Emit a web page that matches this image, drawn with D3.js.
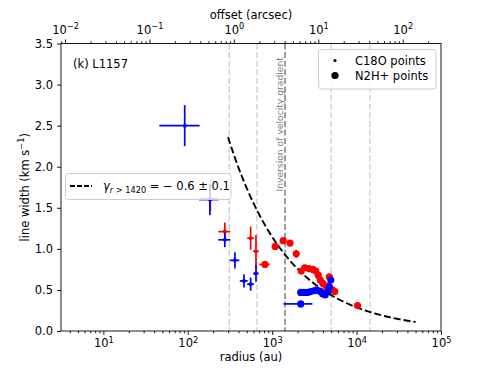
<!DOCTYPE html>
<head>
    <meta charset="UTF-8">
    <title>L1157 line width</title>
    <style>
        body { margin: 0; background: #fff; }
        text { font-family: "DejaVu Sans", sans-serif; }
    </style>
</head>
<body>
    <script src="https://d3js.org/d3.v7.min.js"></script>
    <script>
        // C18O points (radius au, err, line width km/s, err)
        var c18oRedR = [185, 275, 556, 643]
        var c18oRedRErr = [47, 45, 50, 50]
        var c18oRedV = [1.61, 1.21, 1.13, 0.97]
        var c18oRedVErr = [0.15, 0.11, 0.14, 0.20]

        var c18oBlueR = [92, 183, 275, 362, 463, 556, 643]
        var c18oBlueRErr = [46, 47, 45, 47, 50, 50, 50]
        var c18oBlueV = [2.50, 1.60, 1.11, 0.86, 0.61, 0.57, 0.70]
        var c18oBlueVErr = [0.25, 0.19, 0.09, 0.10, 0.08, 0.08, 0.10]

        // N2H+ points
        var n2hRedR = [821, 1085, 1351, 1627, 1927, 2210, 2431, 2712, 3025, 3283, 3516, 3713, 3977, 4315, 4749, 5154, 5518, 10264]
        var n2hRedV = [0.81, 1.03, 1.10, 1.07, 0.94, 0.73, 0.77, 0.76, 0.75, 0.73, 0.68, 0.62, 0.58, 0.55, 0.66, 0.50, 0.48, 0.31]
        var n2hRedRErr = [115, 0, 0, 0, 0, 0, 0, 0, 0, 0, 0, 0, 0, 0, 0, 0, 0, 0]
        var n2hRedVErr = [0, 0, 0, 0, 0.05, 0, 0, 0, 0, 0, 0, 0, 0, 0, 0, 0, 0, 0]

        var n2hBlueR = [2179, 2179, 2384, 2617, 2864, 3135, 3375, 3693, 3977, 4257, 4558, 4749, 4948]
        var n2hBlueV = [0.33, 0.47, 0.47, 0.47, 0.48, 0.49, 0.50, 0.48, 0.45, 0.44, 0.48, 0.54, 0.62]
        var n2hBlueRErr = [820, 0, 0, 0, 0, 0, 0, 0, 0, 0, 0, 0, 0]

        // power law fit
        var fitGamma = -0.6
        var fitAmp = 72.3
        var fitRange = [300, 50000]

        var lightLines = [310, 660, 5000, 14400]
        var inversionR = 1420
        var distance = 352 // pc, au per arcsec

        var yTicks = [0, 0.5, 1, 1.5, 2, 2.5, 3, 3.5]
        var xTicks = [1e1, 1e2, 1e3, 1e4, 1e5]
        var topTicks = [1e-2, 1e-1, 1e0, 1e1, 1e2]

        var width = 490
        var height = 368
        var pad = { left: 61, right: 441, top: 43.5, bottom: 331 } // plot area edges

        var svg = d3.select("body").append("svg")
            .attr("width", width)
            .attr("height", height)

        var x = d3.scaleLog().domain([3.15, 1e5]).range([pad.left, pad.right])
        var xTop = d3.scaleLog().domain([3.15 / distance, 1e5 / distance]).range([pad.left, pad.right])
        var y = d3.scaleLinear().domain([0, 3.5]).range([pad.bottom, pad.top])

        function minors(lo, hi, dom) {
            var out = []
            for (var e = lo; e <= hi; e++) {
                for (var k = 2; k <= 9; k++) {
                    var v = k * Math.pow(10, e)
                    if (v >= dom[0] && v <= dom[1]) out.push(v)
                }
            }
            return out
        }

        function styleAxis(g) {
            g.select(".domain").remove()
            g.selectAll("line").attr("stroke", "#000").attr("stroke-width", 0.9)
            g.selectAll("text").attr("fill", "#000").attr("font-size", "11.5px")
                .attr("font-family", "DejaVu Sans")
        }

        function powLabel(sel) {
            sel.each(function (d) {
                var t = d3.select(this)
                var e = Math.round(Math.log10(d))
                t.text("")
                t.append("tspan").text("10")
                t.append("tspan").attr("font-size", "8.2px").attr("dy", "-4.6")
                    .text(e < 0 ? "\u2212" + (-e) : e)
            })
        }

        // bottom axis
        var gx = svg.append("g").attr("transform", "translate(0," + pad.bottom + ")")
            .call(d3.axisBottom(x).tickValues(xTicks).tickSize(4).tickPadding(4).tickSizeOuter(0))
        styleAxis(gx)
        gx.selectAll("text").call(powLabel)
        var gxm = svg.append("g").attr("transform", "translate(0," + pad.bottom + ")")
            .call(d3.axisBottom(x).tickValues(minors(0, 4, x.domain())).tickSize(2.3).tickFormat(""))
        styleAxis(gxm)

        // top axis
        var gt = svg.append("g").attr("transform", "translate(0," + pad.top + ")")
            .call(d3.axisTop(xTop).tickValues(topTicks).tickSize(4).tickPadding(5.5).tickSizeOuter(0))
        styleAxis(gt)
        gt.selectAll("text").call(powLabel)
        var gtm = svg.append("g").attr("transform", "translate(0," + pad.top + ")")
            .call(d3.axisTop(xTop).tickValues(minors(-3, 2, xTop.domain())).tickSize(2.3).tickFormat(""))
        styleAxis(gtm)

        // left axis
        var gy = svg.append("g").attr("transform", "translate(" + pad.left + ",0)")
            .call(d3.axisLeft(y).tickValues(yTicks).tickSize(4).tickPadding(4).tickFormat(d3.format(".1f")))
        styleAxis(gy)

        // axis titles
        svg.append("text").attr("x", (pad.left + pad.right) / 2).attr("y", 361).attr("text-anchor", "middle")
            .attr("font-size", "11.5px").text("radius (au)")
        svg.append("text").attr("x", (pad.left + pad.right) / 2).attr("y", 18.5).attr("text-anchor", "middle")
            .attr("font-size", "11.5px").text("offset (arcsec)")
        var yl = svg.append("text").attr("transform", "translate(29," + (pad.top + pad.bottom) / 2 + ") rotate(-90)")
            .attr("text-anchor", "middle").attr("font-size", "11.5px")
        yl.append("tspan").text("line width (km s")
        yl.append("tspan").attr("font-size", "8.2px").attr("dy", "-4.6").text("\u22121")
        yl.append("tspan").attr("dy", "4.6").text(")")

        var plot = svg.append("g")

        // vertical reference lines
        plot.selectAll(".vl").data(lightLines).enter().append("line")
            .attr("x1", function (d) { return x(d) }).attr("x2", function (d) { return x(d) })
            .attr("y1", pad.top).attr("y2", pad.bottom)
            .attr("stroke", "#cfcfcf").attr("stroke-width", 1.3).attr("stroke-dasharray", "6,2.6")
        plot.append("line")
            .attr("x1", x(inversionR)).attr("x2", x(inversionR))
            .attr("y1", pad.top).attr("y2", pad.bottom)
            .attr("stroke", "#7f7f7f").attr("stroke-width", 1.5).attr("stroke-dasharray", "6,2.6")
        plot.append("text")
            .attr("transform", "translate(" + (x(inversionR) - 2.5) + ",191.5) rotate(-90)")
            .attr("font-size", "9.2px").attr("fill", "#7f7f7f")
            .text("Inversion of velocity gradient")

        // fit curve
        var fitR = d3.range(0, 61).map(function (i) {
            return fitRange[0] * Math.pow(fitRange[1] / fitRange[0], i / 60)
        })
        plot.append("path")
            .datum(fitR)
            .attr("fill", "none").attr("stroke", "#000").attr("stroke-width", 1.9)
            .attr("stroke-dasharray", "7,3")
            .attr("d", d3.line()
                .x(function (d) { return x(d) })
                .y(function (d) { return y(fitAmp * Math.pow(d, fitGamma)) }))

        function drawSeries(rs, vs, rErr, vErr, color, radius) {
            var g = plot.append("g")
            rs.forEach(function (r, i) {
                var re = rErr ? rErr[i] : 0
                var ve = vErr ? vErr[i] : 0
                if (re > 0) {
                    g.append("line").attr("x1", x(r - re)).attr("x2", x(r + re))
                        .attr("y1", y(vs[i])).attr("y2", y(vs[i]))
                        .attr("stroke", color).attr("stroke-width", 1.7)
                }
                if (ve > 0) {
                    g.append("line").attr("x1", x(r)).attr("x2", x(r))
                        .attr("y1", y(vs[i] - ve)).attr("y2", y(vs[i] + ve))
                        .attr("stroke", color).attr("stroke-width", 1.7)
                }
            })
            g.selectAll("circle").data(rs).enter().append("circle")
                .attr("cx", function (d) { return x(d) })
                .attr("cy", function (d, i) { return y(vs[i]) })
                .attr("r", radius)
                .attr("fill", color)
        }

        drawSeries(c18oRedR, c18oRedV, c18oRedRErr, c18oRedVErr, "#ff0000", 2)
        drawSeries(c18oBlueR, c18oBlueV, c18oBlueRErr, c18oBlueVErr, "#0000ff", 2)
        drawSeries(n2hRedR, n2hRedV, n2hRedRErr, n2hRedVErr, "#ff0000", 3.6)
        drawSeries(n2hBlueR, n2hBlueV, n2hBlueRErr, null, "#0000ff", 3.6)

        // frame
        svg.append("rect").attr("x", pad.left).attr("y", pad.top)
            .attr("width", pad.right - pad.left).attr("height", pad.bottom - pad.top)
            .attr("fill", "none").attr("stroke", "#000").attr("stroke-width", 0.9)

        // label
        svg.append("text").attr("x", 73).attr("y", 68).attr("font-size", "11.5px").text("(k) L1157")

        // legend: points
        svg.append("rect").attr("x", 318.5).attr("y", 49.5).attr("width", 117.5).attr("height", 39.5)
            .attr("rx", 3).attr("fill", "#fff").attr("fill-opacity", 0.8)
            .attr("stroke", "#cccccc").attr("stroke-width", 1)
        svg.append("circle").attr("cx", 335).attr("cy", 60.5).attr("r", 1.6).attr("fill", "#000")
        svg.append("circle").attr("cx", 335).attr("cy", 75.5).attr("r", 3.6).attr("fill", "#000")
        svg.append("text").attr("x", 355).attr("y", 64.5).attr("font-size", "11.5px").text("C18O points")
        svg.append("text").attr("x", 355).attr("y", 79.5).attr("font-size", "11.5px").text("N2H+ points")

        // legend: fit
        svg.append("rect").attr("x", 65.5).attr("y", 173.5).attr("width", 165.5).attr("height", 26)
            .attr("rx", 3).attr("fill", "#fff").attr("fill-opacity", 0.8)
            .attr("stroke", "#cccccc").attr("stroke-width", 1)
        svg.append("line").attr("x1", 70).attr("x2", 92).attr("y1", 186).attr("y2", 186)
            .attr("stroke", "#000").attr("stroke-width", 1.9).attr("stroke-dasharray", "5,2")
        var ft = svg.append("text").attr("x", 103).attr("y", 190).attr("font-size", "11.5px")
        ft.append("tspan").attr("font-style", "italic").text("\u03b3")
        ft.append("tspan").attr("font-size", "8.2px").attr("dy", "2.5").attr("font-style", "italic").text("r")
        ft.append("tspan").attr("font-size", "8.2px").text(" > 1420")
        ft.append("tspan").attr("dy", "-2.5").text(" = \u2212 0.6 \u00b1 0.1")
    </script>
</body>
</html>
